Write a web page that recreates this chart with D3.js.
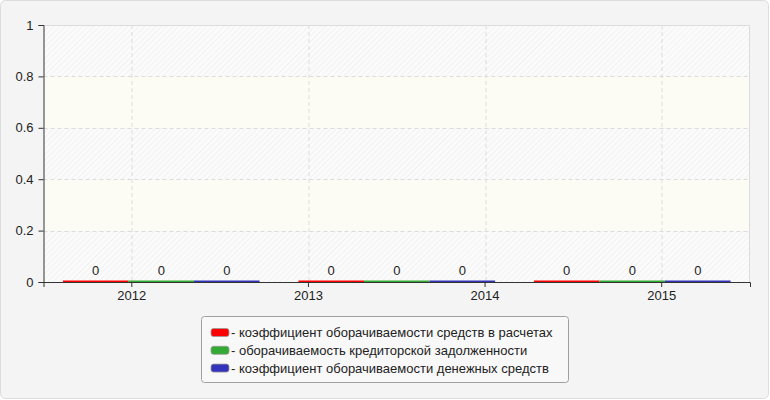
<!DOCTYPE html>
<html>
<head>
<meta charset="utf-8">
<script src="https://cdn.jsdelivr.net/npm/d3@7"></script>
<style>
  html, body { margin: 0; padding: 0; background: #fff; }
  svg { display: block; font-family: "Liberation Sans", Arial, sans-serif; }
</style>
</head>
<body>
<div id="chart"></div>
<script>
const years  = ['2012', '2013', '2014', '2015'];
const groups = [0, 1, 2];
const seriesNames = [
  'коэффициент оборачиваемости средств в расчетах',
  'оборачиваемость кредиторской задолженности',
  'коэффициент оборачиваемости денежных средств'
];
const seriesValues = [
  [0, 0, 0],
  [0, 0, 0],
  [0, 0, 0]
];
const yTicks = [0, 0.2, 0.4, 0.6, 0.8, 1];

const colors = ['#ff0000', '#33aa33', '#3333bb'];
const ink = '#222';
const font = '13px';

const W = 770, H = 400;
const margin = { top: 25, right: 20, bottom: 118, left: 43.5 };
const iW = W - margin.left - margin.right;
const iH = H - margin.top - margin.bottom;

const svg = d3.select('#chart').append('svg').attr('width', W).attr('height', H);

// hatch pattern
const defs = svg.append('defs');
const pat = defs.append('pattern').attr('id', 'hatch')
  .attr('patternUnits', 'userSpaceOnUse').attr('width', 4).attr('height', 4)
  .attr('patternTransform', 'rotate(45)');
pat.append('rect').attr('width', 4).attr('height', 4).attr('fill', '#fbfbfb');
pat.append('line').attr('x1', 0).attr('y1', 0).attr('x2', 0).attr('y2', 4)
  .attr('stroke', '#ececec').attr('stroke-width', 1.2);

svg.append('rect').attr('x', 0.5).attr('y', 0.5).attr('width', W - 2).attr('height', H - 2)
  .attr('rx', 5).attr('fill', '#f4f4f4').attr('stroke', '#dcdcdc');

const g = svg.append('g').attr('transform', `translate(${margin.left},${margin.top})`);

const y = d3.scaleLinear().domain([0, 1]).range([iH, 0]);
const xYear = d3.scaleBand().domain(years).range([0, iW]);
const x0 = d3.scaleBand().domain(groups).range([0, iW]).paddingInner(0.165).paddingOuter(0.0825);
const x1 = d3.scaleBand().domain(d3.range(seriesValues.length)).range([0, x0.bandwidth()]);

// bands
g.append('rect').attr('width', iW).attr('height', iH).attr('fill', 'url(#hatch)');
g.selectAll('.band').data(yTicks.slice(0, -1).filter((d, i) => i % 2 === 1)).join('rect')
  .attr('class', 'band')
  .attr('x', 0).attr('y', d => y(d + 0.2)).attr('width', iW).attr('height', d => y(d) - y(d + 0.2))
  .attr('fill', '#fcfcf4');

// grid
g.selectAll('.hgrid').data(yTicks.slice(1, -1)).join('line')
  .attr('class', 'hgrid')
  .attr('x1', 0).attr('x2', iW).attr('y1', d => Math.round(y(d)) + 0.5).attr('y2', d => Math.round(y(d)) + 0.5)
  .attr('stroke', '#dcdcdc').attr('stroke-dasharray', '4,3');
g.selectAll('.vgrid').data(years).join('line')
  .attr('class', 'vgrid')
  .attr('x1', d => Math.round(xYear(d) + xYear.bandwidth() / 2) + 0.5)
  .attr('x2', d => Math.round(xYear(d) + xYear.bandwidth() / 2) + 0.5)
  .attr('y1', 0).attr('y2', iH)
  .attr('stroke', '#dcdcdc').attr('stroke-dasharray', '4,3');

// plot border (top, right)
g.append('path').attr('d', `M0,0.5H${iW - 0.5}V${iH}`).attr('fill', 'none').attr('stroke', '#dcdcdc');

// bars
seriesValues.forEach((vals, s) => {
  g.selectAll('.bar' + s).data(vals).join('rect')
    .attr('class', 'bar' + s)
    .attr('x', (d, i) => x0(groups[i]) + x1(s))
    .attr('width', x1.bandwidth())
    .attr('y', d => y(d) - 1.5)
    .attr('height', d => Math.max(1.5, iH - y(d)))
    .attr('fill', colors[s]);
  g.selectAll('.lab' + s).data(vals).join('text')
    .attr('class', 'lab' + s)
    .attr('x', (d, i) => x0(groups[i]) + x1(s) + x1.bandwidth() / 2)
    .attr('y', d => y(d) - 7)
    .attr('text-anchor', 'middle')
    .style('font-size', font).style('fill', ink)
    .text(d => d);
});

// axes
g.append('g').attr('transform', `translate(0,${iH})`)
  .call(d3.axisBottom(xYear).tickSizeOuter(0).tickSize(5).tickPadding(4))
  .call(a => a.select('.domain').attr('stroke', '#333'))
  .call(a => a.selectAll('line').attr('stroke', '#333'))
  .call(a => a.selectAll('text').style('font-size', font).style('fill', ink).style('font-family', 'Liberation Sans, Arial'));

g.append('g')
  .call(d3.axisLeft(y).tickValues(yTicks).tickFormat(d3.format('')).tickSizeOuter(0).tickSize(5).tickPadding(5))
  .call(a => a.select('.domain').attr('stroke', '#333'))
  .call(a => a.selectAll('line').attr('stroke', '#333'))
  .call(a => a.selectAll('text').style('font-size', font).style('fill', ink).style('font-family', 'Liberation Sans, Arial'));

// legend
const lg = svg.append('g').attr('transform', 'translate(201,316)');
lg.append('rect').attr('x', 0.5).attr('y', 0.5).attr('width', 367).attr('height', 66)
  .attr('rx', 3).attr('fill', '#f8f8f8').attr('stroke', '#a0a0a0');
const rows = lg.selectAll('.row').data(seriesNames).join('g')
  .attr('class', 'row')
  .attr('transform', (d, i) => `translate(10,${16.5 + i * 17.8})`);
rows.append('rect').attr('x', 0).attr('y', -4).attr('width', 18).attr('height', 8).attr('rx', 2.5)
  .attr('fill', (d, i) => colors[i]).attr('stroke', '#999').attr('stroke-width', 0.8);
rows.append('text').attr('x', 20).attr('y', 4.6)
  .style('font-size', font).style('fill', ink)
  .text(d => '- ' + d);
</script>
</body>
</html>
